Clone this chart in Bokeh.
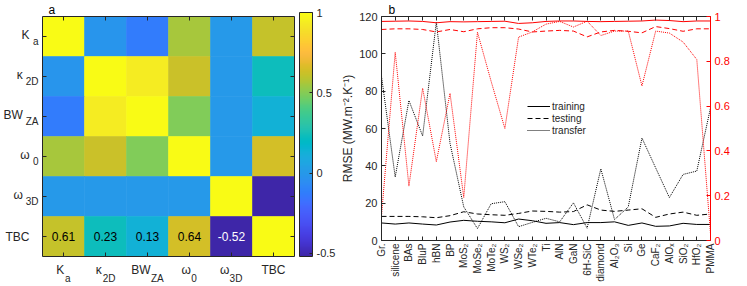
import math
import numpy as np
from bokeh.plotting import figure
from bokeh.models import (Range1d, LinearAxis, FixedTicker, CustomJSTickFormatter, ColorBar,
                          LinearColorMapper, Label, Legend, LegendItem, ColumnDataSource)
from bokeh.layouts import row, column
from bokeh.core.properties import value
from bokeh.embed import file_html
from bokeh.resources import INLINE

# ---------------- data: panel a (correlation matrix) ----------------
features = ["Ka", "κ2D", "BWZA", "ω0", "ω3D", "TBC"]
feat_main = ["K", "κ", "BW", "ω", "ω", "TBC"]
feat_sub = ["a", "2D", "ZA", "0", "3D", ""]
corr = [
    [1.00, -0.02, -0.13, 0.56, 0.00, 0.61],
    [-0.02, 1.00, 0.94, 0.62, 0.00, 0.23],
    [-0.13, 0.94, 1.00, 0.49, 0.00, 0.13],
    [0.56, 0.62, 0.49, 1.00, 0.00, 0.64],
    [0.00, 0.00, 0.00, 0.00, 1.00, -0.52],
    [0.61, 0.23, 0.13, 0.64, -0.52, 1.00],
]
cbar_ticks = [-0.5, 0, 0.5, 1]

# ---------------- data: panel b ----------------
materials = ["Gr.", "silicene", "BAs", "BluP", "hBN", "BP", "MoS₂", "MoSe₂", "MoTe₂",
             "WS₂", "WSe₂", "WTe₂", "Ti", "AlN", "GaN", "6H-SiC", "diamond", "Al₂O₃",
             "Si", "Ge", "CaF₂", "AlOₓ", "SiO₂", "HfO₂", "PMMA"]
rmse_training = [9.4, 8.8, 9.4, 8.8, 8.3, 9.9, 10.8, 10.3, 10.0, 9.5, 11.5, 10.6, 9.2,
                 9.6, 8.5, 9.6, 9.6, 10.0, 8.1, 9.4, 7.6, 7.8, 9.2, 8.6, 8.6]
rmse_testing = [12.9, 12.9, 12.9, 12.7, 12.2, 13.3, 15.4, 14.2, 13.8, 13.5, 14.5, 15.8, 15.6,
                15.2, 15.5, 19.1, 16.3, 15.6, 16.3, 17.0, 12.4, 14.2, 15.2, 13.5, 14.2]
rmse_transfer = [88, 34, 75, 56, 117, 52, 18, 6.4, 19.7, 20.8, 7.4, 9.7, 11.9,
                 10, 20.2, 6.6, 38.4, 11.2, 18, 54.9, 38.9, 23, 35.4, 37.2, 71]
r2_training = [0.978, 0.979, 0.980, 0.978, 0.972, 0.977, 0.976, 0.977, 0.978, 0.979, 0.969,
               0.972, 0.978, 0.980, 0.980, 0.978, 0.977, 0.978, 0.979, 0.980, 0.984, 0.982,
               0.977, 0.980, 0.980]
r2_testing = [0.942, 0.945, 0.945, 0.942, 0.931, 0.942, 0.932, 0.945, 0.950, 0.950, 0.944,
              0.931, 0.935, 0.938, 0.935, 0.909, 0.931, 0.938, 0.934, 0.927, 0.955, 0.946,
              0.934, 0.945, 0.945]
r2_transfer = [0.11, 0.84, 0.243, 0.68, 0.352, 0.657, 0.192, 0.93, 0.71, 0.50, 0.908, 0.931,
               0.966, 0.978, 0.953, 0.979, 0.915, 0.935, 0.935, 0.69, 0.935, 0.926, 0.886,
               0.808, 0.03]
rmse_ticks = [0, 20, 40, 60, 80, 100, 120]
r2_ticks = [0, 0.2, 0.4, 0.6, 0.8, 1]
series_names = ["training", "testing", "transfer"]

# ---------------- style ----------------
FONT = "Liberation Sans"
AX = "#262626"
RED = "#ff0000"
PARULA64 = [
    (0.2422, 0.1504, 0.6603), (0.2504, 0.1650, 0.7076), (0.2578, 0.1818, 0.7511), (0.2647, 0.1978, 0.7952),
    (0.2706, 0.2147, 0.8364), (0.2751, 0.2342, 0.8710), (0.2783, 0.2559, 0.8991), (0.2803, 0.2782, 0.9221),
    (0.2813, 0.3006, 0.9414), (0.2810, 0.3228, 0.9579), (0.2795, 0.3447, 0.9717), (0.2760, 0.3667, 0.9829),
    (0.2699, 0.3892, 0.9906), (0.2602, 0.4123, 0.9952), (0.2440, 0.4358, 0.9988), (0.2206, 0.4603, 0.9973),
    (0.1963, 0.4847, 0.9892), (0.1834, 0.5074, 0.9798), (0.1786, 0.5289, 0.9682), (0.1764, 0.5499, 0.9520),
    (0.1687, 0.5703, 0.9359), (0.1540, 0.5902, 0.9218), (0.1460, 0.6091, 0.9079), (0.1380, 0.6276, 0.8973),
    (0.1248, 0.6459, 0.8883), (0.1113, 0.6635, 0.8763), (0.0952, 0.6798, 0.8598), (0.0689, 0.6948, 0.8394),
    (0.0297, 0.7082, 0.8163), (0.0036, 0.7203, 0.7917), (0.0067, 0.7312, 0.7660), (0.0433, 0.7411, 0.7394),
    (0.0964, 0.7500, 0.7120), (0.1408, 0.7584, 0.6842), (0.1717, 0.7670, 0.6554), (0.1938, 0.7758, 0.6251),
    (0.2161, 0.7843, 0.5923), (0.2470, 0.7918, 0.5567), (0.2906, 0.7973, 0.5188), (0.3406, 0.8008, 0.4789),
    (0.3909, 0.8029, 0.4354), (0.4456, 0.8024, 0.3909), (0.5044, 0.7993, 0.3480), (0.5616, 0.7942, 0.3045),
    (0.6174, 0.7876, 0.2612), (0.6720, 0.7793, 0.2227), (0.7242, 0.7698, 0.1910), (0.7738, 0.7598, 0.1646),
    (0.8203, 0.7498, 0.1535), (0.8634, 0.7406, 0.1596), (0.9035, 0.7330, 0.1774), (0.9393, 0.7288, 0.2100),
    (0.9728, 0.7298, 0.2394), (0.9956, 0.7434, 0.2371), (0.9970, 0.7659, 0.2199), (0.9952, 0.7893, 0.2028),
    (0.9892, 0.8136, 0.1885), (0.9786, 0.8386, 0.1766), (0.9676, 0.8639, 0.1643), (0.9610, 0.8890, 0.1537),
    (0.9597, 0.9135, 0.1423), (0.9628, 0.9373, 0.1265), (0.9691, 0.9606, 0.1064), (0.9769, 0.9839, 0.0805),
]
_pa = np.array(PARULA64)
_t = np.linspace(0, 1, len(_pa))
_tt = np.linspace(0, 1, 256)
palette = ["#%02x%02x%02x" % tuple(int(round(255 * np.interp(t, _t, _pa[:, k]))) for k in range(3))
           for t in _tt]

# approximate Liberation Sans advance widths (em units) for label layout
WID = {"K": .667, "a": .556, "κ": .52, "B": .667, "W": .944, "ω": .69, "T": .611, "C": .722,
       "0": .556, "2": .556, "3": .556, "D": .722, "Z": .611, "A": .667}


def tw(s, fs):
    return sum(WID.get(ch, .6) for ch in s) * fs


fmt = CustomJSTickFormatter(code="return tick.toString()")

H = 286
n = len(features)
FS_MAIN, FS_SUB = 12, 10
W1 = 338
COLPX = (W1 - 36 - 43) / n
ROWPX = 244 / n

# ================= panel a =================
mapper = LinearColorMapper(palette=palette, low=-0.52, high=1.0)
xs, ys, vs = [], [], []
for i in range(n):
    for j in range(n):
        xs.append(j + 0.5)
        ys.append(n - 0.5 - i)
        vs.append(corr[i][j])
src = ColumnDataSource(dict(x=xs, y=ys, v=vs))

p1 = figure(width=W1, height=H, x_range=Range1d(0, n), y_range=Range1d(0, n),
            output_backend="svg", toolbar_location=None, min_border_left=36,
            min_border_right=43, min_border_top=13, min_border_bottom=27, title="a")
p1.title.align = "left"
p1.title.offset = 6
p1.title.standoff = 0
p1.title.text_font = FONT
p1.title.text_font_size = "12px"
p1.title.text_font_style = "normal"
p1.title.text_color = "black"

p1.rect(x="x", y="y", width=1, height=1, source=src,
        fill_color={"field": "v", "transform": mapper},
        line_color={"field": "v", "transform": mapper}, line_width=0.6)

tbc_row = corr[-1][:-1]
tsrc = ColumnDataSource(dict(x=[j + 0.5 for j in range(len(tbc_row))], y=[0.5] * len(tbc_row),
                             t=["%.2f" % v for v in tbc_row],
                             c=["white" if v < 0 else "black" for v in tbc_row]))
p1.text(x="x", y="y", text="t", text_color="c", source=tsrc, text_align="center",
        text_baseline="middle", text_font=value(FONT), text_font_size="12px")
p1.grid.visible = False
p1.outline_line_color = None

centers = [k + 0.5 for k in range(n)]


def tick_axis(ax):
    ax.ticker = FixedTicker(ticks=centers)
    ax.major_tick_in = 4
    ax.major_tick_out = 0
    ax.minor_tick_line_color = None
    ax.major_tick_line_color = AX
    ax.axis_line_color = AX
    ax.major_label_text_font_size = "0px"
    ax.major_label_standoff = 0


def label_axis(ticks, labels, size, standoff):
    pairs = sorted(zip(ticks, labels))
    ax = LinearAxis(ticker=FixedTicker(ticks=[p[0] for p in pairs]),
                    major_label_overrides={p[0]: p[1] for p in pairs})
    ax.major_tick_in = 0
    ax.major_tick_out = 0
    ax.minor_tick_line_color = None
    ax.major_tick_line_color = None
    ax.axis_line_color = None
    ax.major_label_text_font = FONT
    ax.major_label_text_font_size = "%dpx" % size
    ax.major_label_text_color = AX
    ax.major_label_standoff = standoff
    return ax


tick_axis(p1.xaxis[0])
tick_axis(p1.yaxis[0])
ax_top = LinearAxis()
tick_axis(ax_top)
p1.add_layout(ax_top, "above")
ax_right = LinearAxis()
tick_axis(ax_right)
p1.add_layout(ax_right, "right")

# bottom labels: main then subscript
bx_main, bx_sub, b_sub = [], [], []
for k in range(n):
    mw, sw = tw(feat_main[k], FS_MAIN), tw(feat_sub[k], FS_SUB)
    shift = (sw + 1) / 2 if feat_sub[k] else 0
    bx_main.append(centers[k] - shift / COLPX)
    if feat_sub[k]:
        bx_sub.append(centers[k] + (mw / 2 + 0.5 - shift + (sw + 1) / 2 - sw / 2 + sw / 2) / COLPX)
        b_sub.append(feat_sub[k])
p1.add_layout(label_axis(bx_main, feat_main, FS_MAIN, 6), "below")
p1.add_layout(label_axis(bx_sub, b_sub, FS_SUB, -7), "below")

# left labels: subscript (inner) then main (outer)
ly_main, l_main, ly_sub, l_sub = [], [], [], []
for k in range(n):
    yc = n - 0.5 - k
    if feat_sub[k]:
        ly_sub.append(yc - 5.5 / ROWPX)
        l_sub.append(feat_sub[k])
        ly_main.append(yc + 1.6 / ROWPX)
        pad = "\u2007" if tw(feat_sub[k], FS_SUB) > 8 else ""
        l_main.append(feat_main[k] + pad)
    else:
        ly_main.append(yc - 1.0 / ROWPX)
        l_main.append(feat_main[k])
p1.add_layout(label_axis(ly_sub, l_sub, FS_SUB, 4), "left")
p1.add_layout(label_axis(ly_main, l_main, FS_MAIN, -7), "left")

cb = ColorBar(color_mapper=mapper, ticker=FixedTicker(ticks=cbar_ticks), formatter=fmt,
              width=13, height=244, padding=0, margin=0, location=(5, 0), label_standoff=4,
              major_label_text_font=FONT, major_label_text_font_size="11px",
              major_label_text_color=AX, major_tick_in=3, major_tick_line_color=AX,
              bar_line_color=AX, border_line_color=None, background_fill_alpha=0)
p1.add_layout(cb, "right")

# ================= panel b =================
xi = list(range(len(materials)))
p2 = figure(width=747 - W1, height=H, x_range=Range1d(0, len(materials) - 1),
            y_range=Range1d(rmse_ticks[0], rmse_ticks[-1]), output_backend="svg",
            toolbar_location=None, min_border_left=42, min_border_right=37,
            min_border_top=14, min_border_bottom=46, title="b")
p2.title.align = "left"
p2.title.offset = 7
p2.title.standoff = 0
p2.title.text_font = FONT
p2.title.text_font_size = "12px"
p2.title.text_font_style = "normal"
p2.title.text_color = "black"
p2.extra_y_ranges = {"r2": Range1d(r2_ticks[0], r2_ticks[-1])}
p2.grid.visible = False
p2.outline_line_color = None

r_tr = p2.line(xi, rmse_training, line_color="black", line_width=1)
r_te = p2.line(xi, rmse_testing, line_color="black", line_width=1, line_dash="5 3")
r_tf = p2.line(xi, rmse_transfer, line_color="black", line_width=1, line_dash="1 1")
p2.line(xi, r2_training, line_color=RED, line_width=1, y_range_name="r2")
p2.line(xi, r2_testing, line_color=RED, line_width=1, line_dash="5 3", y_range_name="r2")
p2.line(xi, r2_transfer, line_color=RED, line_width=1, line_dash="1 1", y_range_name="r2")

xax = p2.xaxis[0]
xax.ticker = FixedTicker(ticks=xi)
xax.major_label_overrides = {i: m for i, m in enumerate(materials)}
xax.major_label_orientation = math.pi / 2
xax.major_label_text_font_size = "10px"
xax.major_label_standoff = 3

yax = p2.yaxis[0]
yax.ticker = FixedTicker(ticks=rmse_ticks)
yax.formatter = fmt
yax.axis_label = "RMSE (MW.m⁻².K⁻¹)"
yax.axis_label_text_font = FONT
yax.axis_label_text_font_size = "12px"
yax.axis_label_text_font_style = "normal"
yax.axis_label_text_color = AX
yax.axis_label_standoff = 1
yax.major_label_text_font_size = "11px"
yax.major_label_standoff = 4

top = LinearAxis(ticker=FixedTicker(ticks=xi))
p2.add_layout(top, "above")
rax = LinearAxis(y_range_name="r2", ticker=FixedTicker(ticks=r2_ticks), formatter=fmt)
p2.add_layout(rax, "right")

for ax in [xax, yax, top]:
    ax.axis_line_color = AX
    ax.major_tick_line_color = AX
    ax.major_label_text_color = AX
for ax in [xax, yax, top, rax]:
    ax.major_tick_in = 4
    ax.major_tick_out = 0
    ax.minor_tick_line_color = None
    ax.major_label_text_font = FONT
top.major_label_text_font_size = "0px"
top.major_label_standoff = 0
rax.axis_line_color = RED
rax.major_tick_line_color = RED
rax.major_label_text_color = RED
rax.major_label_text_font_size = "11px"
rax.major_label_standoff = 4

p2.add_layout(Label(x=len(materials) - 1, y=0.5, y_range_name="r2", x_offset=29, text="R²",
                    angle=math.pi / 2, text_align="center", text_baseline="middle",
                    text_font=FONT, text_font_size="12px", text_color=RED))

legend = Legend(items=[LegendItem(label=series_names[0], renderers=[r_tr]),
                       LegendItem(label=series_names[1], renderers=[r_te]),
                       LegendItem(label=series_names[2], renderers=[r_tf])],
                location=(146, 104), orientation="vertical", padding=0, margin=0, spacing=0,
                glyph_width=23, glyph_height=12, label_height=12, label_standoff=2,
                label_text_font=FONT, label_text_font_size="10px", label_text_color=AX,
                border_line_alpha=0, background_fill_alpha=0)
p2.add_layout(legend)

layout = row(column(p1), column(p2))
open("out.html", "w").write(file_html(layout, INLINE))
